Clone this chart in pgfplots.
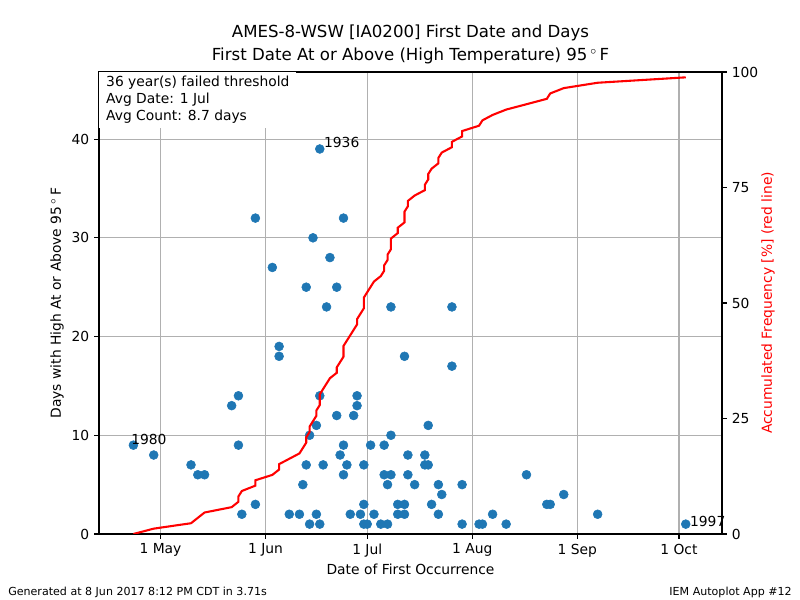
\documentclass[border=0pt]{standalone}
\usepackage{fontspec}
\setmainfont{DejaVu Sans}
\usepackage{pgfplots}
\pgfplotsset{compat=1.18}
\definecolor{mplblue}{HTML}{1F77B4}
\definecolor{gridgray}{HTML}{B0B0B0}
\newcommand{\degF}{95\,$^{\circ}$\,F}
\begin{document}
\begin{tikzpicture}[x=0.72bp,y=0.72bp]
\useasboundingbox (0,0) rectangle (800,600);
\node[font=\fontsize{12}{14}\selectfont] at (410.5,567) {AMES-8-WSW [IA0200] First Date and Days};
\node[font=\fontsize{12}{14}\selectfont] at (410.5,544) {First Date At or Above (High Temperature) \degF};
\node[anchor=west,inner sep=0pt,font=\fontsize{8}{9}\selectfont] at (8,8) {Generated at 8 Jun 2017 8:12 PM CDT in 3.71s};
\node[anchor=east,inner sep=0pt,font=\fontsize{8}{9}\selectfont] at (792,8) {IEM Autoplot App \#12};
\begin{axis}[
  at={(71.28bp,47.52bp)}, anchor=south west,
  scale only axis, width=448.56bp, height=332.64bp,
  xmin=102.85, xmax=286.7, ymin=0, ymax=46.8,
  xtick={121,152,182,213,244,274},
  xticklabels={1 May,1 Jun,1 Jul,1 Aug,1 Sep,1 Oct},
  ytick={0,10,20,30,40},
  xtick pos=left, ytick pos=left,
  tick align=outside, major tick length=3.5bp,
  every tick/.style={black,line width=0.8bp},
  axis line style={line width=0.8bp},
  grid=major, grid style={gridgray,line width=0.8bp},
  ticklabel style={font=\fontsize{10}{12}\selectfont},
  /pgf/number format/assume math mode=true,
  xlabel={Date of First Occurrence},
  ylabel={Days with High At or Above \degF},
  label style={font=\fontsize{10}{12}\selectfont},
  xlabel style={at={(axis description cs:0.5,-0.0758)},anchor=center},
  ylabel style={at={(axis description cs:-0.0674,0.5)},anchor=center},
  clip mode=individual,
]
\node[anchor=north west, fill=white, inner xsep=5bp, inner ysep=3bp, align=left,
      font=\fontsize{10}{12.2}\selectfont] at (axis description cs:0,1)
  {36 year(s) failed threshold\\Avg Date: 1 Jul\\Avg Count: 8.7 days};
\addplot[color=mplblue, only marks, mark=*, mark size=3.2bp, mark options={solid,draw=mplblue,fill=mplblue,line width=0.4bp}] coordinates {
(113,9) (119,8) (130,7) (132,6) (134,6) (142,13) (144,14) (144,9) (145,2)
(149,32) (149,3) (154,27) (156,19) (156,18) (159,2) (162,2) (163,5)
(164,25) (164,7) (165,1) (165,10) (166,30) (167,11) (167,2) (168,39)
(168,14) (168,1) (169,7) (170,23) (171,28) (173,25) (173,12) (174,8)
(175,32) (175,9) (175,6) (176,7) (177,2) (178,12) (179,14) (179,13)
(180,2) (181,7) (181,3) (181,1) (182,1) (183,9) (184,2) (186,1)
(187,9) (187,6) (188,5) (188,1) (189,23) (189,10) (189,6) (191,3)
(191,2) (193,18) (193,3) (193,2) (194,8) (194,6) (196,5) (199,8)
(199,7) (200,11) (200,7) (201,3) (203,5) (203,2) (204,4) (207,23)
(207,17) (210,5) (210,1) (215,1) (216,1) (219,2) (223,1) (229,6)
(235,3) (236,3) (240,4) (250,2) (276,1)
};
\node[anchor=south west,inner sep=0pt,font=\fontsize{10}{12}\selectfont] at (axis cs:112.3,9) {1980};
\node[anchor=south west,inner sep=0pt,font=\fontsize{10}{12}\selectfont] at (axis cs:169.2,39.1) {1936};
\node[anchor=south west,inner sep=0pt,font=\fontsize{10}{12}\selectfont] at (axis cs:277.2,0.7) {1997};
\end{axis}
\begin{axis}[
  at={(71.28bp,47.52bp)}, anchor=south west,
  scale only axis, width=448.56bp, height=332.64bp,
  xmin=102.85, xmax=286.7, ymin=0, ymax=100,
  axis x line=none, axis y line*=right,
  ytick={0,25,50,75,100},
  tick align=outside, major tick length=3.5bp,
  every tick/.style={black,line width=0.8bp},
  axis line style={line width=0.8bp},
  ticklabel style={font=\fontsize{10}{12}\selectfont},
  /pgf/number format/assume math mode=true,
  ylabel={Accumulated Frequency [\%] (red line)},
  ylabel style={red,font=\fontsize{10}{12}\selectfont,at={(axis description cs:1.0738,0.5)},anchor=center,rotate=0},
]
\addplot[red, line width=1.5bp, mark=none] coordinates {
(113,0) (119,1.16) (130,2.33) (132,3.49) (134,4.65) (142,5.81) (144,6.98)
(144,8.14) (145,9.30) (149,10.47) (149,11.63) (154,12.79) (156,13.95)
(156,15.12) (159,16.28) (162,17.44) (163,18.60) (164,19.77) (164,20.93)
(165,22.09) (165,23.26) (166,24.42) (167,25.58) (167,26.74) (168,27.91)
(168,29.07) (168,30.23) (169,31.40) (170,32.56) (171,33.72) (173,34.88)
(173,36.05) (174,37.21) (175,38.37) (175,39.53) (175,40.70) (176,41.86)
(177,43.02) (178,44.19) (179,45.35) (179,46.51) (180,47.67) (181,48.84)
(181,50.00) (181,51.16) (182,52.33) (183,53.49) (184,54.65) (186,55.81)
(187,56.98) (187,58.14) (188,59.30) (188,60.47) (189,61.63) (189,62.79)
(189,63.95) (191,65.12) (191,66.28) (193,67.44) (193,68.60) (193,69.77)
(194,70.93) (194,72.09) (196,73.26) (199,74.42) (199,75.58) (200,76.74)
(200,77.91) (201,79.07) (203,80.23) (203,81.40) (204,82.56) (207,83.72)
(207,84.88) (210,86.05) (210,87.21) (215,88.37) (216,89.53) (219,90.70)
(223,91.86) (229,93.02) (235,94.19) (236,95.35) (240,96.51) (250,97.67)
(276,98.84)
};
\end{axis}
\end{tikzpicture}
\end{document}
